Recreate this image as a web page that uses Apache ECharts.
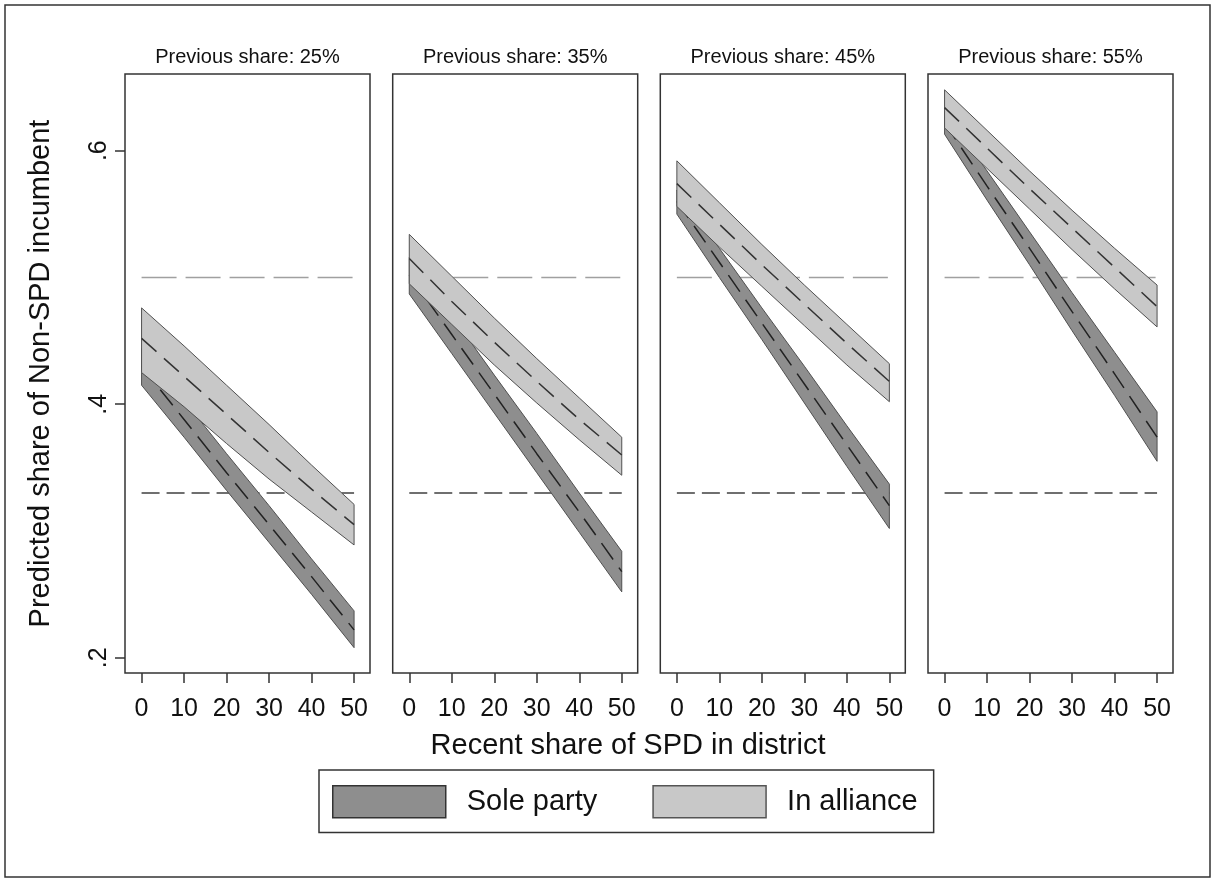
<!DOCTYPE html>
<html>
<head>
<meta charset="utf-8">
<script src="https://cdn.jsdelivr.net/npm/echarts@6/dist/echarts.min.js"></script>
<style>html,body{margin:0;padding:0;background:#fff}#c{width:1216px;height:884px}</style>
</head>
<body>
<div id="c"></div>
<script>
// ---- data ----
const xs = [0, 10, 20, 30, 40, 50];
const xTicks = [0, 10, 20, 30, 40, 50];
const yTicks = [0.2, 0.4, 0.6];
const panelTitles = ['Previous share: 25%', 'Previous share: 35%', 'Previous share: 45%', 'Previous share: 55%'];
const refLevels = [0.5, 0.33];
const seriesNames = ['Sole party', 'In alliance'];

// In alliance (light band): upper, center, lower per panel
const allianceUp = [
  [0.476, 0.446, 0.415, 0.384, 0.352, 0.321],
  [0.534, 0.501, 0.468, 0.436, 0.405, 0.374],
  [0.592, 0.559, 0.526, 0.494, 0.463, 0.432],
  [0.648, 0.616, 0.584, 0.553, 0.523, 0.494]
];
const allianceMid = [
  [0.452, 0.422, 0.392, 0.362, 0.333, 0.305],
  [0.515, 0.481, 0.449, 0.418, 0.388, 0.360],
  [0.574, 0.542, 0.510, 0.479, 0.448, 0.418],
  [0.634, 0.602, 0.570, 0.539, 0.508, 0.477]
];
const allianceLo = [
  [0.425, 0.398, 0.369, 0.341, 0.315, 0.289],
  [0.495, 0.463, 0.431, 0.401, 0.372, 0.344],
  [0.556, 0.524, 0.493, 0.462, 0.431, 0.402],
  [0.618, 0.586, 0.554, 0.522, 0.491, 0.461]
];
// Sole party (dark band)
const soleUp = [
  [0.444, 0.403, 0.361, 0.320, 0.278, 0.237],
  [0.516, 0.470, 0.423, 0.377, 0.330, 0.284],
  [0.569, 0.523, 0.476, 0.430, 0.383, 0.337],
  [0.631, 0.584, 0.536, 0.488, 0.441, 0.394]
];
const soleMid = [
  [0.430, 0.388, 0.346, 0.305, 0.264, 0.222],
  [0.502, 0.455, 0.408, 0.361, 0.315, 0.268],
  [0.560, 0.512, 0.464, 0.416, 0.368, 0.320],
  [0.622, 0.572, 0.523, 0.473, 0.424, 0.374]
];
const soleLo = [
  [0.415, 0.374, 0.332, 0.291, 0.250, 0.208],
  [0.487, 0.440, 0.393, 0.346, 0.299, 0.252],
  [0.550, 0.500, 0.451, 0.401, 0.351, 0.302],
  [0.613, 0.561, 0.510, 0.458, 0.407, 0.355]
];

// ---- styling / layout ----
const FONT = "'Liberation Sans', Arial, sans-serif";
const TXT = '#111';
const panelLefts = [125, 392.7, 660.3, 928];
const panelW = 245, panelTop = 74, panelH = 599;
const darkFill = '#8e8e8e', lightFill = '#c8c8c8';

const grids = [], xAxes = [], yAxes = [], series = [];
panelLefts.forEach((l, i) => {
  grids.push({left: l, top: panelTop, width: panelW, height: panelH, show: true,
    borderColor: '#333', borderWidth: 1.5, backgroundColor: 'transparent'});
  xAxes.push({type: 'value', gridIndex: i, min: -3.9, max: 53.75,
    axisLine: {show: false, onZero: false}, splitLine: {show: false},
    axisTick: {show: true, customValues: xTicks, length: 10, lineStyle: {color: '#333', width: 1.5}},
    axisLabel: {show: true, customValues: xTicks, margin: 24, fontSize: 25, color: TXT, fontFamily: FONT}
  });
  const y = {type: 'value', gridIndex: i, min: 0.188, max: 0.6605,
    axisLine: {show: false, onZero: false}, splitLine: {show: false},
    axisTick: {show: i === 0, customValues: yTicks, length: 10, lineStyle: {color: '#333', width: 1.5}},
    axisLabel: {show: i === 0, customValues: yTicks, rotate: 90, margin: 13, fontSize: 25, color: TXT, fontFamily: FONT,
      formatter: v => String(v).replace(/^0/, '')}
  };
  if (i === 0) {
    y.name = 'Predicted share of Non-SPD incumbent';
    y.nameLocation = 'middle';
    y.nameGap = 70;
    y.nameTextStyle = {fontSize: 29, color: TXT, fontFamily: FONT};
  }
  yAxes.push(y);

  // reference lines
  refLevels.forEach((lv, r) => {
    series.push({type: 'line', xAxisIndex: i, yAxisIndex: i, z: 1, silent: true,
      symbol: 'none', data: [[xs[0], lv], [xs[xs.length - 1], lv]],
      lineStyle: r === 0 ? {color: '#a0a0a0', width: 1.5, type: [35, 9]}
                         : {color: '#404040', width: 1.5, type: [18, 7]}});
  });

  const band = (name, up, lo, fill, z) => ({
    type: 'custom', name: name, xAxisIndex: i, yAxisIndex: i, z: z, silent: true,
    itemStyle: {color: fill},
    data: [[xs[0], up[0]]],
    renderItem: (params, api) => {
      const pts = [];
      for (let k = 0; k < xs.length; k++) pts.push(api.coord([xs[k], up[k]]));
      for (let k = xs.length - 1; k >= 0; k--) pts.push(api.coord([xs[k], lo[k]]));
      return {type: 'polygon', shape: {points: pts},
        style: {fill: fill, stroke: '#505050', lineWidth: 1}};
    }
  });
  const mid = (vals, z, color) => ({type: 'line', xAxisIndex: i, yAxisIndex: i, z: z, silent: true,
    symbol: 'none', data: xs.map((x, k) => [x, vals[k]]),
    lineStyle: {color: color, width: 1.5, type: [20, 10]}});

  series.push(band(seriesNames[0], soleUp[i], soleLo[i], darkFill, 2));
  series.push(mid(soleMid[i], 3, '#222'));
  series.push(band(seriesNames[1], allianceUp[i], allianceLo[i], lightFill, 4));
  series.push(mid(allianceMid[i], 5, '#333'));
});

const graphics = [
  {type: 'rect', shape: {x: 5, y: 5, width: 1205, height: 872}, style: {fill: 'none', stroke: '#333', lineWidth: 1.5}, z: -1},
  {type: 'text', x: 628, y: 746, style: {text: 'Recent share of SPD in district', fontSize: 29, fontFamily: FONT, fill: TXT, align: 'center', verticalAlign: 'middle'}}
];
panelTitles.forEach((t, i) => {
  graphics.push({type: 'text', x: panelLefts[i] + panelW / 2, y: 57,
    style: {text: t, fontSize: 20, fontFamily: FONT, fill: TXT, align: 'center', verticalAlign: 'middle'}});
});

const chart = echarts.init(document.getElementById('c'), null, {renderer: 'canvas'});
chart.setOption({
  animation: false,
  backgroundColor: '#fff',
  grid: grids, xAxis: xAxes, yAxis: yAxes, series: series,
  graphic: graphics,
  legend: {
    left: 319, top: 770, orient: 'horizontal', selectedMode: false,
    itemWidth: 113, itemHeight: 32, itemGap: 55,
    padding: [15, 16, 14, 13], borderColor: '#333', borderWidth: 1.5,
    textStyle: {fontSize: 29, color: TXT, fontFamily: FONT, padding: [0, 0, 0, 16], lineHeight: 32},
    data: [
      {name: seriesNames[0], icon: 'rect', itemStyle: {color: darkFill, borderColor: '#333', borderWidth: 1.5}},
      {name: seriesNames[1], icon: 'rect', itemStyle: {color: lightFill, borderColor: '#555', borderWidth: 1.5}}
    ]
  }
});
</script>
</body>
</html>
